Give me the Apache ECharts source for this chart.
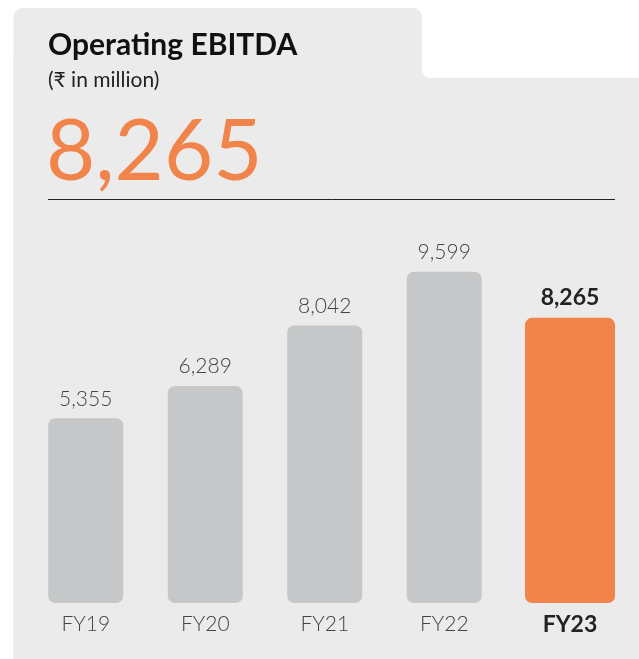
<!DOCTYPE html>
<html>
<head>
<meta charset="utf-8">
<script src="https://cdn.jsdelivr.net/npm/echarts@6/dist/echarts.min.js"></script>
<style>
  html, body { margin: 0; padding: 0; background: #fff; }
  #chart { width: 639px; height: 659px; }
</style>
</head>
<body>
<div id="chart"></div>
<script>
// data
var categories = ['FY19', 'FY20', 'FY21', 'FY22', 'FY23'];
var values = [5355, 6289, 8042, 9599, 8265];
var headline = '8,265';
var titleText = 'Operating EBITDA';
var unitText = '(\u20b9 in million)';

var grey = '#c6c7c9';
var orange = '#f0844a';
var font = 'Lato, "Noto Sans", sans-serif';

function fmt(v) {
  return Number(v).toLocaleString('en-US');
}

var chart = echarts.init(document.getElementById('chart'));

var last = categories.length - 1;

var option = {
  backgroundColor: '#fff',
  animation: false,
  graphic: [
    // panel
    { type: 'rect', z: 0, shape: { x: 13.5, y: 60, width: 640, height: 620 }, style: { fill: '#ebebeb' } },
    { type: 'rect', z: 0, shape: { x: 13.5, y: 8, width: 408.5, height: 660, r: [9, 9, 0, 0] }, style: { fill: '#ebebeb' } },
    { type: 'rect', z: 1, shape: { x: 422, y: -20, width: 300, height: 98, r: [0, 0, 0, 8] }, style: { fill: '#fff' } },
    // titles
    { type: 'text', z: 2, style: { x: 48, y: 45, text: titleText, fill: '#111', font: 'bold 30px ' + font, verticalAlign: 'middle' } },
    { type: 'text', z: 2, style: { x: 48, y: 80, text: unitText, fill: '#222', font: '21px ' + font, verticalAlign: 'middle' } },
    { type: 'text', z: 2, style: { x: 46, y: 153, text: headline, fill: orange, font: '85px ' + font, verticalAlign: 'middle' } },
    { type: 'line', z: 2, shape: { x1: 48, y1: 199.5, x2: 615, y2: 199.5 }, style: { stroke: '#222', lineWidth: 1 } }
  ],
  grid: [
    { left: 26, top: 258, width: 478, height: 345 },
    { left: 525, top: 258, width: 90, height: 345 }
  ],
  xAxis: [
    {
      type: 'category', gridIndex: 0, data: categories.slice(0, last),
      axisLine: { show: false }, axisTick: { show: false },
      axisLabel: { color: '#444', fontSize: 21, fontWeight: 300, fontFamily: font, margin: 11 }
    },
    {
      type: 'category', gridIndex: 1, data: categories.slice(last),
      axisLine: { show: false }, axisTick: { show: false },
      axisLabel: { color: '#222', fontSize: 23, fontWeight: 'bold', fontFamily: font, margin: 10 }
    }
  ],
  yAxis: [
    { type: 'value', gridIndex: 0, min: 0, max: 10000, show: false },
    { type: 'value', gridIndex: 1, min: 0, max: 10000, show: false }
  ],
  series: [
    {
      type: 'bar', xAxisIndex: 0, yAxisIndex: 0,
      data: values.slice(0, last),
      barWidth: 75,
      itemStyle: { color: grey, borderRadius: [7, 7, 7, 7] },
      label: {
        show: true, position: 'top', distance: 9,
        color: '#444', fontSize: 21, fontWeight: 300, fontFamily: font,
        formatter: function (p) { return fmt(p.value); }
      }
    },
    {
      type: 'bar', xAxisIndex: 1, yAxisIndex: 1,
      data: values.slice(last),
      barWidth: 90,
      itemStyle: { color: orange, borderRadius: [7, 7, 7, 7] },
      label: {
        show: true, position: 'top', distance: 9,
        color: '#222', fontSize: 23, fontWeight: 'bold', fontFamily: font,
        formatter: function (p) { return fmt(p.value); }
      }
    }
  ]
};

chart.setOption(option);
</script>
</body>
</html>
